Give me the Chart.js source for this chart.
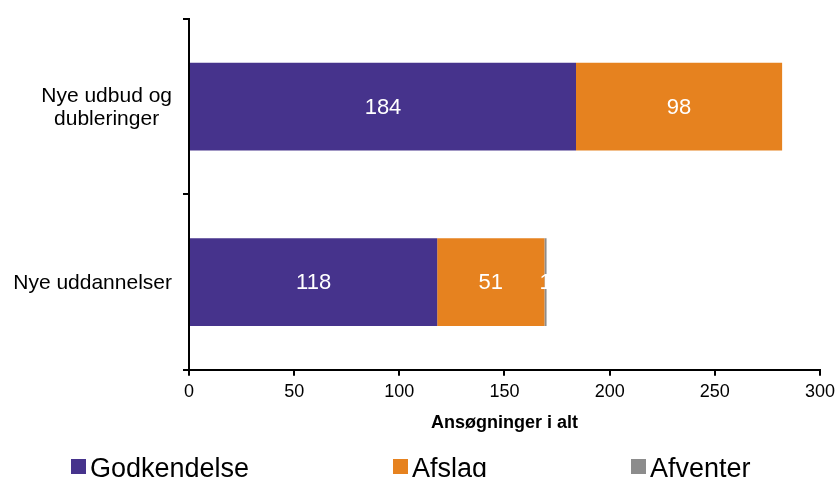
<!DOCTYPE html>
<html>
<head>
<meta charset="utf-8">
<script src="https://cdn.jsdelivr.net/npm/chart.js@4"></script>
<style>
    html, body { margin: 0; padding: 0; background: #fff; }
    #wrap { width: 840px; height: 477px; position: relative; }
</style>
</head>
<body>
<div id="wrap"><canvas id="chart"></canvas></div>
<script>
const categories = [ [ 'Nye udbud og', 'dubleringer' ], 'Nye uddannelser' ];
const godkendelse = [ 184, 118 ];
const afslag = [ 98, 51 ];
const afventer = [ 0, 1 ];
const xTicks = [ 0, 50, 100, 150, 200, 250, 300 ];

const FONT = '"Liberation Sans", Arial, sans-serif';

// white values in the middle of each segment
const barLabels = {
    id: 'barLabels',
    afterDatasetsDraw ( chart ) {
        const ctx = chart.ctx;
        ctx.save();
        ctx.font = '22px ' + FONT;
        ctx.fillStyle = '#fff';
        ctx.textAlign = 'center';
        ctx.textBaseline = 'middle';
        chart.data.datasets.forEach( ( ds, i ) => {
            chart.getDatasetMeta( i ).data.forEach( ( bar, j ) => {
                const v = ds.data[ j ];
                if ( !v ) return;
                const p = bar.getProps( [ 'x', 'y', 'base' ], true );
                ctx.fillText( String( v ), ( p.x + p.base ) / 2, p.y + 1 );
            } );
        } );
        ctx.restore();
    }
};

// legend spread along the bottom edge
const bottomLegend = {
    id: 'bottomLegend',
    afterDraw ( chart ) {
        const ctx = chart.ctx;
        const xs = [ 71, 393, 631 ];
        ctx.save();
        ctx.font = '27px ' + FONT;
        ctx.textBaseline = 'alphabetic';
        ctx.textAlign = 'left';
        chart.data.datasets.forEach( ( ds, i ) => {
            ctx.fillStyle = ds.backgroundColor;
            ctx.fillRect( xs[ i ], 459, 15, 15 );
            ctx.fillStyle = '#000';
            ctx.fillText( ds.label, xs[ i ] + 19, 477 );
        } );
        ctx.restore();
    }
};

// y labels: block right aligned, lines centred inside the block
const yLabels = {
    id: 'yLabels',
    afterDraw ( chart ) {
        const ctx = chart.ctx;
        const y = chart.scales.y;
        ctx.save();
        ctx.font = '21px ' + FONT;
        ctx.fillStyle = '#000';
        ctx.textAlign = 'center';
        ctx.textBaseline = 'middle';
        const lh = 23;
        chart.data.labels.forEach( ( lab, i ) => {
            const lines = Array.isArray( lab ) ? lab : [ lab ];
            const w = Math.max( ...lines.map( l => ctx.measureText( l ).width ) );
            const cx = y.right - 17 - w / 2;
            const cy = y.getPixelForValue( i ) + 1;
            lines.forEach( ( l, k ) => {
                ctx.fillText( l, cx, cy + ( k - ( lines.length - 1 ) / 2 ) * lh );
            } );
        } );
        ctx.restore();
    }
};

new Chart( document.getElementById( 'chart' ), {
    type: 'bar',
    data: {
        labels: categories,
        datasets: [ {
            label: 'Godkendelse',
            data: godkendelse,
            backgroundColor: '#46338c'
        }, {
            label: 'Afslag',
            data: afslag,
            backgroundColor: '#e6821f'
        }, {
            label: 'Afventer',
            data: afventer,
            backgroundColor: '#8c8c8c'
        } ]
    },
    plugins: [ barLabels, bottomLegend, yLabels ],
    options: {
        indexAxis: 'y',
        responsive: true,
        maintainAspectRatio: false,
        animation: false,
        barPercentage: 0.5,
        categoryPercentage: 1,
        layout: { padding: { left: 0, right: 20, top: 19, bottom: 43 } },
        plugins: {
            legend: { display: false },
            tooltip: { enabled: false }
        },
        scales: {
            x: {
                stacked: true,
                min: 0,
                max: 300,
                afterBuildTicks ( axis ) {
                    axis.ticks = xTicks.map( v => ( { value: v } ) );
                },
                border: { color: '#000', width: 2 },
                grid: {
                    drawOnChartArea: false,
                    color: '#000',
                    lineWidth: 2,
                    tickLength: 6
                },
                ticks: {
                    color: '#000',
                    padding: 5,
                    font: { family: FONT, size: 18 }
                },
                title: {
                    display: true,
                    text: 'Ansøgninger i alt',
                    color: '#000',
                    padding: { top: 5, bottom: 0 },
                    font: { family: FONT, size: 18, weight: 'bold' }
                }
            },
            y: {
                stacked: true,
                afterFit ( axis ) { axis.width = 189; },
                border: { color: '#000', width: 2 },
                grid: {
                    drawOnChartArea: false,
                    offset: true,
                    color: '#000',
                    lineWidth: 2,
                    tickLength: 6
                },
                ticks: { display: false }
            }
        }
    }
} );
</script>
</body>
</html>
